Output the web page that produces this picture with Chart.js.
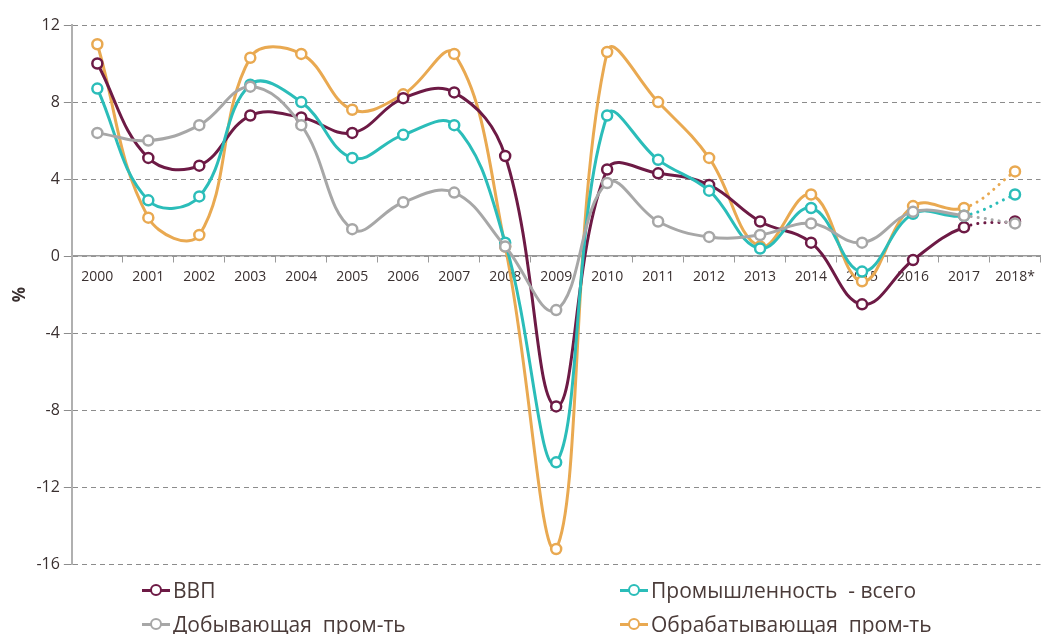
<!DOCTYPE html>
<html lang="ru">
<head>
<meta charset="UTF-8" />
<title>Темпы роста</title>
<script src="https://cdn.jsdelivr.net/npm/chart.js"></script>
<style>
  html, body { margin: 0; padding: 0; background: #fff; }
  #wrap { position: relative; width: 1048px; height: 634px; }
  #box { position: absolute; left: 0; top: 0; width: 1048px; height: 578px; }
  #legend { position: absolute; left: 0; top: 574px; width: 1048px; height: 60px;
    font-family: "Open Sans", sans-serif; font-size: 21px; color: #4a3b39; }
  .item { position: absolute; display: flex; align-items: center; white-space: pre; }
  .sym { position: relative; width: 28px; height: 14px; margin-right: 3px; }
  .sym .ln { position: absolute; left: 0; right: 0; top: 6px; height: 3px; }
  .sym .dot { position: absolute; left: 8px; top: 1px; width: 8px; height: 8px;
    border-radius: 50%; background: #fff; border: 2.5px solid; }
</style>
</head>
<body>
<div id="wrap">
  <div id="box"><canvas id="c"></canvas></div>
  <div id="legend"></div>
</div>
<script>
  const years = ["2000","2001","2002","2003","2004","2005","2006","2007","2008","2009",
    "2010","2011","2012","2013","2014","2015","2016","2017","2018*"];
  const gdp =      [10.0, 5.1, 4.7, 7.3, 7.2, 6.4, 8.2, 8.5, 5.2, -7.8, 4.5, 4.3, 3.7, 1.8, 0.7, -2.5, -0.2, 1.5, 1.8];
  const industry = [8.7, 2.9, 3.1, 8.9, 8.0, 5.1, 6.3, 6.8, 0.7, -10.7, 7.3, 5.0, 3.4, 0.4, 2.5, -0.8, 2.2, 2.1, 3.2];
  const mining =   [6.4, 6.0, 6.8, 8.8, 6.8, 1.4, 2.8, 3.3, 0.5, -2.8, 3.8, 1.8, 1.0, 1.1, 1.7, 0.7, 2.3, 2.1, 1.7];
  const manuf =    [11.0, 2.0, 1.1, 10.3, 10.5, 7.6, 8.4, 10.5, 0.5, -15.2, 10.6, 8.0, 5.1, 0.5, 3.2, -1.3, 2.6, 2.5, 4.4];
  const yTicks = [-16, -12, -8, -4, 0, 4, 8, 12];

  const series = [
    { label: "ВВП", data: gdp, color: "#6d1a45", left: 142, top: 2 },
    { label: "Промышленность  - всего", data: industry, color: "#2bbdb9", left: 620, top: 2 },
    { label: "Добывающая  пром-ть", data: mining, color: "#a7a7a7", left: 142, top: 36 },
    { label: "Обрабатывающая  пром-ть", data: manuf, color: "#e9a951", left: 620, top: 36 }
  ];
  // draw order: last in array is on top in the picture
  const order = [2, 1, 0, 3];

  const datasets = series.map((s, i) => ({
    label: s.label,
    data: s.data,
    borderColor: s.color,
    backgroundColor: "#fff",
    borderWidth: 3,
    pointRadius: 5,
    pointBorderWidth: 2.5,
    pointBackgroundColor: "#fff",
    pointBorderColor: s.color,
    tension: 0.4,
    order: order[i],
    // forecast year drawn dotted
    segment: {
      borderDash: ctx => ctx.p1DataIndex === years.length - 1 ? [0.1, 7] : undefined
    },
    borderCapStyle: "round"
  }));

  new Chart(document.getElementById("c"), {
    type: "line",
    data: { labels: years, datasets },
    options: {
      responsive: true,
      maintainAspectRatio: false,
      animation: false,
      layout: { padding: { left: 8, right: 0, top: 25, bottom: 0 } },
      plugins: { legend: { display: false }, tooltip: { enabled: false } },
      scales: {
        x: {
          position: { y: 0 },
          offset: true,
          grid: { display: true, drawOnChartArea: false, offset: true, tickLength: 6, color: "#9a9a9a" },
          border: { color: "#9a9a9a", width: 1.5 },
          ticks: { color: "#3a3030", font: { family: "Open Sans", size: 14 }, padding: 6, maxRotation: 0, autoSkip: false }
        },
        y: {
          min: -16, max: 12,
          afterBuildTicks: axis => { axis.ticks = yTicks.map(v => ({ value: v })); },
          grid: { color: "#8c8c8c", lineWidth: 1, tickLength: 8, drawTicks: true },
          border: { color: "#b0b0b0", width: 2, dash: [5, 4] },
          ticks: { color: "#3a3030", font: { family: "Open Sans", size: 16 }, padding: 4 },
          title: { display: true, text: "%", color: "#3a3030", font: { family: "Open Sans", size: 17, weight: "bold" }, padding: 2 }
        }
      }
    }
  });

  const legend = document.getElementById("legend");
  series.forEach(s => {
    const it = document.createElement("div");
    it.className = "item";
    it.style.left = s.left + "px";
    it.style.top = s.top + "px";
    it.innerHTML = '<span class="sym"><span class="ln" style="background:' + s.color +
      '"></span><span class="dot" style="border-color:' + s.color + '"></span></span>' + s.label;
    legend.appendChild(it);
  });
</script>
</body>
</html>
